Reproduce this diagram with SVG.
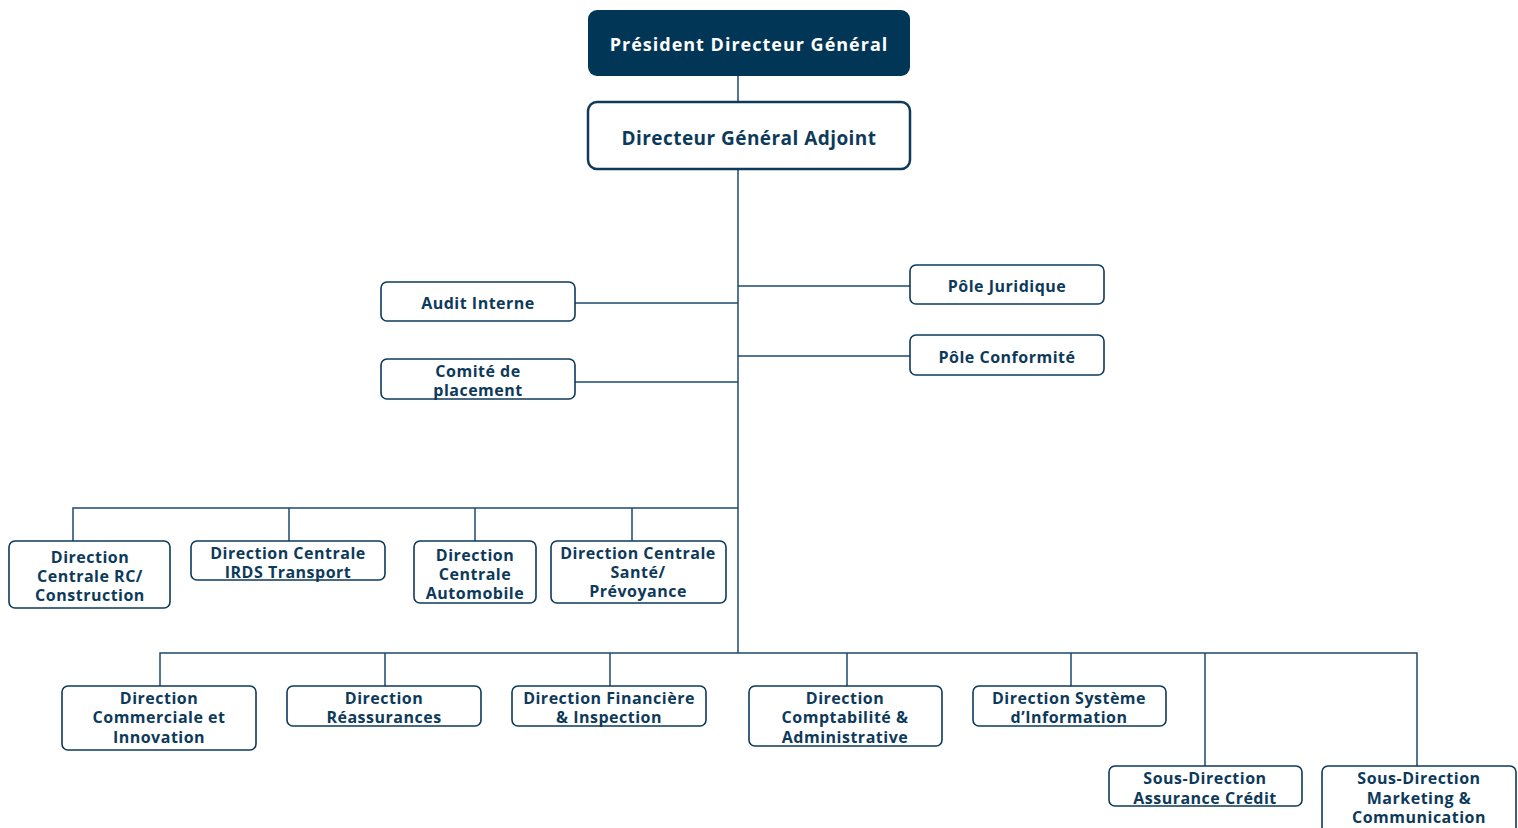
<svg xmlns="http://www.w3.org/2000/svg" width="1518" height="828" viewBox="0 0 1518 828">
<style>
.box{fill:#fff;stroke:#0d3a5a;stroke-width:1.6}
.t{font-family:"Open Sans","Liberation Sans",sans-serif;font-weight:700;font-size:16px;letter-spacing:0.5px;fill:#0d3a5a;text-anchor:middle}
.c{fill:none;stroke:#1d4a6c;stroke-width:1.5}
</style>
<rect width="1518" height="828" fill="#fff"/>
<g id="connectors">
<path class="c" d="M738 76V653M575 303H738M575 382H738M738 286H910M738 356H910"/>
<path class="c" d="M73 541V508H738M289 508V541M475 508V541M632 508V541"/>
<path class="c" d="M160 686V653H1417V766M385 653V686M610 653V686M847 653V686M1071 653V686M1205 653V766"/>
</g>
<g id="pdg"><rect x="588" y="10" width="322" height="66" rx="9" fill="#023656"/><text class="t" x="749" y="51" style="fill:#fff;font-size:18px;letter-spacing:1px">Président Directeur Général</text></g>
<g id="dga"><rect class="box" x="588" y="102" width="322" height="67" rx="9" style="stroke-width:2.5"/><text class="t" x="749" y="145" style="font-size:19px;letter-spacing:0.45px">Directeur Général Adjoint</text></g>
<g id="audit"><rect class="box" x="381" y="282" width="194" height="39" rx="6"/><text class="t" x="478" y="309">Audit Interne</text></g>
<g id="comite"><rect class="box" x="381" y="359" width="194" height="40" rx="6"/><text class="t" x="478" y="377">Comité de</text><text class="t" x="478" y="396">placement</text></g>
<g id="juridique"><rect class="box" x="910" y="265" width="194" height="39" rx="6"/><text class="t" x="1007" y="292">Pôle Juridique</text></g>
<g id="conformite"><rect class="box" x="910" y="335" width="194" height="40" rx="6"/><text class="t" x="1007" y="363">Pôle Conformité</text></g>
<g id="rc"><rect class="box" x="9" y="541" width="161" height="67" rx="6"/><text class="t" x="90" y="563">Direction</text><text class="t" x="90" y="582">Centrale RC/</text><text class="t" x="90" y="601">Construction</text></g>
<g id="irds"><rect class="box" x="191" y="541" width="194" height="39" rx="6"/><text class="t" x="288" y="559">Direction Centrale</text><text class="t" x="288" y="578">IRDS Transport</text></g>
<g id="auto"><rect class="box" x="414" y="541" width="122" height="62" rx="6"/><text class="t" x="475" y="561">Direction</text><text class="t" x="475" y="580">Centrale</text><text class="t" x="475" y="599">Automobile</text></g>
<g id="sante"><rect class="box" x="551" y="541" width="175" height="62" rx="6"/><text class="t" x="638" y="559">Direction Centrale</text><text class="t" x="638" y="578">Santé/</text><text class="t" x="638" y="597">Prévoyance</text></g>
<g id="commerciale"><rect class="box" x="62" y="686" width="194" height="64" rx="6"/><text class="t" x="159" y="704">Direction</text><text class="t" x="159" y="723">Commerciale et</text><text class="t" x="159" y="743">Innovation</text></g>
<g id="reassurances"><rect class="box" x="287" y="686" width="194" height="40" rx="6"/><text class="t" x="384" y="704">Direction</text><text class="t" x="384" y="723">Réassurances</text></g>
<g id="financiere"><rect class="box" x="512" y="686" width="194" height="40" rx="6"/><text class="t" x="609" y="704">Direction Financière</text><text class="t" x="609" y="723">&amp; Inspection</text></g>
<g id="comptabilite"><rect class="box" x="749" y="686" width="193" height="60" rx="6"/><text class="t" x="845" y="704">Direction</text><text class="t" x="845" y="723">Comptabilité &amp;</text><text class="t" x="845" y="743">Administrative</text></g>
<g id="systeme"><rect class="box" x="973" y="686" width="193" height="40" rx="6"/><text class="t" x="1069" y="704">Direction Système</text><text class="t" x="1069" y="723">d’Information</text></g>
<g id="credit"><rect class="box" x="1109" y="766" width="193" height="40" rx="6"/><text class="t" x="1205" y="784">Sous-Direction</text><text class="t" x="1205" y="804">Assurance Crédit</text></g>
<g id="marketing"><rect class="box" x="1322" y="766" width="194" height="70" rx="6"/><text class="t" x="1419" y="784">Sous-Direction</text><text class="t" x="1419" y="804">Marketing &amp;</text><text class="t" x="1419" y="823">Communication</text></g>
</svg>
